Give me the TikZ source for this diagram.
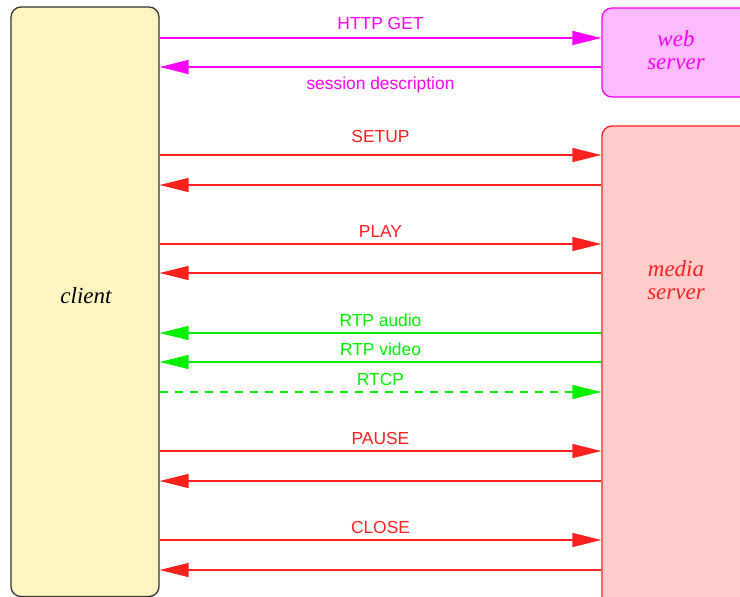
\documentclass[tikz,border=0pt]{standalone}
\usepackage{fontspec}
\setmainfont{Liberation Serif}
\setsansfont{Liberation Sans}
\usetikzlibrary{arrows.meta}
\definecolor{magline}{HTML}{FF00FF}
\definecolor{magfill}{HTML}{FFBBFF}
\definecolor{redline}{HTML}{FF2020}
\definecolor{redfill}{HTML}{FFCCCC}
\definecolor{grnline}{HTML}{00F000}
\definecolor{clientfill}{HTML}{FFF5C0}
\definecolor{clientline}{HTML}{333333}
\tikzset{
  party/.style={draw, rounded corners=10pt, line width=1.3pt, inner sep=0pt},
  msg/.style={line width=1.35pt, -{Triangle[length=29pt,width=14pt]}},
  lbl/.style={font=\sffamily\fontsize{17.4}{20}\selectfont, anchor=base, inner sep=0pt},
  ptxt/.style={font=\itshape\fontsize{23}{26}\selectfont, align=center, inner sep=0pt},
}
\begin{document}
\begin{tikzpicture}[x=1pt,y=-1pt]
\clip (0,0) rectangle (740,597);
\fill[white] (0,0) rectangle (740,597);
% participants
\node[party, draw=clientline, fill=clientfill, minimum width=148pt, minimum height=589.5pt] (client) at (85,301.75) {};
\node[ptxt, text=black] (clienttxt) at (86,296) {client};
\node[party, draw=magline, fill=magfill, minimum width=148pt, minimum height=89pt] (web) at (676,52.5) {};
\node[ptxt, text=magline] (webtxt) at (676,50) {web\\[-3.5pt]server};
\node[party, draw=redline, fill=redfill, minimum width=148pt, minimum height=482pt] (media) at (676,367) {};
\node[ptxt, text=redline] (mediatxt) at (676,280) {media\\[-3.5pt]server};
% messages
\draw[msg, magline] (client.east |- 0,38) -- (web.west |- 0,38);
\draw[msg, magline] (web.west |- 0,67) -- (client.east |- 0,67);
\node[lbl, text=magline] (l1) at (380.5,29.5) {HTTP GET};
\node[lbl, text=magline] (l2) at (380.5,89.5) {session description};

\draw[msg, redline] (client.east |- 0,155) -- (media.west |- 0,155);
\draw[msg, redline] (media.west |- 0,185) -- (client.east |- 0,185);
\node[lbl, text=redline] (l3) at (380.5,142) {SETUP};

\draw[msg, redline] (client.east |- 0,244) -- (media.west |- 0,244);
\draw[msg, redline] (media.west |- 0,273) -- (client.east |- 0,273);
\node[lbl, text=redline] (l4) at (380.5,237.7) {PLAY};

\draw[msg, grnline] (media.west |- 0,333) -- (client.east |- 0,333);
\node[lbl, text=grnline] (l5) at (380.5,326) {RTP audio};
\draw[msg, grnline] (media.west |- 0,362) -- (client.east |- 0,362);
\node[lbl, text=grnline] (l6) at (380.5,355.7) {RTP video};
\draw[msg, grnline, dash pattern=on 8pt off 7pt] (client.east |- 0,392) -- (media.west |- 0,392);
\node[lbl, text=grnline] (l7) at (380.5,385.7) {RTCP};

\draw[msg, redline] (client.east |- 0,451) -- (media.west |- 0,451);
\draw[msg, redline] (media.west |- 0,481) -- (client.east |- 0,481);
\node[lbl, text=redline] (l8) at (380.5,444.5) {PAUSE};

\draw[msg, redline] (client.east |- 0,540) -- (media.west |- 0,540);
\draw[msg, redline] (media.west |- 0,570) -- (client.east |- 0,570);
\node[lbl, text=redline] (l9) at (380.5,533.5) {CLOSE};
\end{tikzpicture}
\end{document}
